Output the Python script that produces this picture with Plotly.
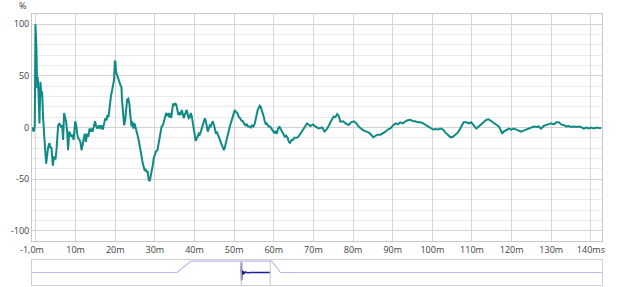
import plotly.graph_objects as go

# ---- main impulse response (time in ms, value in %) ----
time_ms = [
    -0.96, -0.55, -0.3, -0.13, 0.13, 0.3, 0.45, 0.63, 0.88, 1.13, 1.39, 1.55, 1.8, 1.97, 2.2, 2.57, 2.8,
    3.07, 3.4, 3.66, 3.9, 4.25, 4.58, 4.92, 5.17, 5.42, 5.6, 5.93, 6.26, 6.6, 6.85, 7.1, 7.35, 7.6, 7.87,
    8.1, 8.4, 8.7, 8.96, 9.2, 9.5, 9.9, 10.14, 10.4, 10.6, 11.0, 11.2, 11.5, 11.8, 12.06, 12.3, 12.6, 12.9,
    13.2, 13.5, 13.75, 14.0, 14.3, 14.7, 14.9, 15.2, 15.5, 15.85, 16.2, 16.5, 16.85, 17.2, 17.5, 17.8, 18.0,
    18.3, 18.55, 18.9, 19.2, 19.5, 19.7, 19.9, 20.05, 20.2, 20.4, 20.7, 21.06, 21.3, 21.57, 21.7, 22.0,
    22.25, 22.5, 22.75, 23.0, 23.3, 23.6, 23.8, 24.1, 24.3, 24.6, 24.85, 25.1, 25.35, 25.6, 25.9, 26.3,
    26.6, 26.95, 27.2, 27.45, 27.7, 27.96, 28.2, 28.46, 28.7, 28.96, 29.2, 29.5, 29.7, 30.0, 30.3, 30.65,
    31.0, 31.2, 31.5, 31.7, 32.0, 32.3, 32.6, 32.85, 33.1, 33.35, 33.6, 33.9, 34.1, 34.4, 34.6, 34.9, 35.2,
    35.4, 35.7, 35.95, 36.2, 36.45, 36.8, 37.0, 37.3, 37.5, 37.8, 38.05, 38.3, 38.55, 38.8, 39.05, 39.3,
    39.55, 39.8, 40.06, 40.3, 40.6, 40.8, 41.07, 41.3, 41.6, 41.8, 42.08, 42.3, 42.6, 42.85, 43.1, 43.35,
    43.6, 43.85, 44.1, 44.36, 44.6, 44.87, 45.1, 45.4, 45.6, 45.9, 46.1, 46.4, 46.6, 46.9, 47.1, 47.4,
    47.6, 47.9, 48.1, 48.4, 48.65, 48.9, 49.15, 49.4, 49.65, 49.9, 50.15, 50.5, 50.8, 51.2, 51.5, 51.8,
    52.2, 52.5, 52.85, 53.2, 53.5, 53.85, 54.2, 54.5, 54.85, 55.2, 55.45, 55.7, 55.95, 56.2, 56.45, 56.7,
    56.96, 57.2, 57.5, 57.7, 58.0, 58.2, 58.5, 58.7, 59.05, 59.4, 59.75, 60.1, 60.4, 60.75, 61.1, 61.4,
    61.8, 62.1, 62.45, 62.8, 63.1, 63.5, 63.8, 64.1, 64.5, 64.8, 65.2, 65.5, 65.8, 66.2, 66.7, 67.6, 68.4,
    69.25, 69.9, 70.5, 71.3, 72.2, 72.8, 73.5, 74.1, 74.7, 75.1, 75.55, 76.0, 76.4, 76.8, 77.5, 78.1,
    78.9, 79.5, 80.2, 80.85, 81.4, 82.0, 82.7, 83.4, 84.0, 84.55, 85.1, 85.65, 86.2, 86.9, 87.6, 88.2,
    88.75, 89.4, 90.1, 90.7, 91.3, 91.95, 92.6, 93.2, 93.8, 94.5, 95.15, 95.7, 96.3, 97.0, 97.7, 98.3,
    98.8, 99.5, 100.2, 100.8, 101.4, 102.0, 102.7, 103.3, 103.9, 104.6, 105.2, 105.8, 106.4, 106.9,
    107.4, 107.9, 108.6, 109.2, 109.8, 110.4, 111.1, 111.7, 112.3, 113.0, 113.65, 114.2, 114.8, 115.5,
    116.2, 116.75, 117.2, 117.6, 118.0, 118.7, 119.3, 119.9, 120.5, 121.2, 121.8, 122.4, 123.0, 123.7,
    124.3, 124.9, 125.6, 126.3, 126.8, 127.4, 128.1, 128.8, 129.4, 130.0, 130.6, 131.3, 131.9, 132.5,
    133.1, 133.8, 134.4, 135.0, 135.7, 136.35, 136.9, 137.5, 138.2, 138.9, 139.5, 140.1, 140.7, 141.4,
    142.0, 142.6,
]
response_pct = [
    0, -4, 1, 100, 75, 38, 49, 36, 4, 44, 30, 35, 10, -10, -15, -35, -28,
    -19, -15, -20, -19, -37, -28, -31, -22, -2, 2, 4, 1, 2, -12, 14, 10, 6, -4,
    -22, -4, -6, -9, -7, -12, 6, 2, -6, -10, -12, -14, -22, -15, -12, -6, -14, -6,
    -9, -1, -4, -1, -4, 1, 6, 1, -1, 2, -1, 2, -2, 4, 9, 7, 12,
    10, 20, 30, 36, 41, 46, 65, 63, 54, 51, 47.5, 44, 41, 39, 27, 12,
    2, 7, 20, 27, 28, 22, 12, 1, 6, -1, 4, 1, -4, -7, -12, -19,
    -27, -35, -38, -42, -41, -43, -43, -51, -52, -47, -44, -36, -30, -25, -23, -22,
    -14, -9, -1, 1, 2, 6, 10, 14, 12, 13, 10, 14, 9, 17, 23, 22, 23,
    22, 17, 12, 15, 12, 17, 14, 9, 12, 14, 17, 12, 9, 10, 14, 11,
    4, -2, -10, -13, -10, -9, -6, -7, -4, -1, 1, 6, 9, 6, 2, -4,
    -1, 2, 1, 4, 6, 3, -1, -6, -4, -7, -9, -12, -15, -19, -21, -22,
    -20, -15, -10, -6, -2, 1, 4, 7, 12, 15, 17, 15, 14, 10, 9, 7,
    6, 4, 2, 3, 1, 1, 0, 2, 1, 4, 9, 14, 17, 19, 21, 20,
    17, 14, 10, 6, 3, 4, 2, 1, 1, -1, -3, -5, -4, -6, -1, 1,
    -2, -4, -6, -9, -8, -10, -14, -15, -12, -12, -10, -10, -10, -9, -6, -1, 4,
    1.5, 3, 1, -1, 0, -4, -1, 4, 8, 10.5, 10, 13, 11, 5.6, 6, 4,
    2.5, 5, 6, 4, 1, -1, -3, -4, -5, -7, -9.5, -8, -7, -7, -5.6, -4,
    -2, -1, 2, 4, 3, 5, 4, 6, 7, 7.5, 6, 6, 5, 5, 4, 2.5,
    1.5, -1, -2, -1.5, -2, -1, -2, -5, -7, -9.5, -9, -7, -5, -2,
    2, 5, 5, 4, 5, 2.5, -1, 1, 3, 6, 7.5, 8, 6.5, 4,
    2.5, 1, -2, -6, -4, -2, -1, -2, -1, -2, -3, -4, -3, -2,
    -1, 0, 1, 0.5, 1, -1, 1.5, 2.5, 3, 4, 3, 5, 5, 3,
    2.5, 1, 1.5, 0.5, 1, 0.5, 1, 0.5, -1, 0, -1, 0, -1, 0,
    -0.5, -0.5,
]

# ---- axis ticks ----
x_tick_vals = [-1, 0, 10, 20, 30, 40, 50, 60, 70, 80, 90, 100, 110, 120, 130, 140]
x_tick_text = ["-1,0m", "", "10m", "20m", "30m", "40m", "50m", "60m", "70m", "80m", "90m",
               "100m", "110m", "120m", "130m", "140ms"]
y_tick_vals = [-100, -50, 0, 50, 100]
y_tick_text = ["-100", "-50", "0", "50", "100"]

# ---- overview strip: analysis window and impulse ----
window_ms = [-1040, -320, -251, 150, 194, 1790]
window_level = [0, 0, 1, 1, 0, 0]
overview_ms = [-1, 0, 0.5, 1, 2, 3, 5, 8, 12, 20, 30, 50, 142]
overview_amp = [0, 0.9, -0.7, 0.4, -0.3, 0.2, -0.15, 0.1, -0.1, 0.05, -0.03, 0, 0]
view_span = [-1, 142.8]

font = dict(family="Open Sans", size=9, color="#404040")

fig = go.Figure()
fig.add_trace(go.Scatter(x=time_ms, y=response_pct, mode="lines",
                         line=dict(color="#0f8a85", width=2), xaxis="x", yaxis="y"))
fig.add_trace(go.Scatter(x=window_ms, y=window_level, mode="lines",
                         line=dict(color="#b8b8f2", width=1.2), xaxis="x2", yaxis="y2"))
fig.add_trace(go.Scatter(x=overview_ms, y=overview_amp, mode="lines",
                         line=dict(color="#1e1e96", width=1.5), xaxis="x2", yaxis="y2"))

for v in view_span:
    fig.add_shape(type="line", xref="x2", yref="y2 domain", x0=v, x1=v, y0=0, y1=0.96,
                  line=dict(color="#c4c4c4", width=1))

fig.add_annotation(text="%", xref="paper", yref="paper", x=-0.017, y=1.031,
                   showarrow=False, font=font, xanchor="center", yanchor="middle")

fig.update_layout(
    width=617, height=287,
    margin=dict(l=32, r=15, t=14, b=2),
    paper_bgcolor="white", plot_bgcolor="white",
    showlegend=False, font=font,
    xaxis=dict(domain=[0, 1], anchor="y", range=[-1, 142.8],
               tickmode="array", tickvals=x_tick_vals, ticktext=x_tick_text,
               showgrid=True, gridcolor="#d6d6d6", gridwidth=1,
               showline=True, linecolor="#c8c8c8", mirror=True,
               zeroline=False, ticks="", tickfont=font),
    yaxis=dict(domain=[0.1624, 1], anchor="x", range=[-110, 110],
               tickmode="array", tickvals=y_tick_vals, ticktext=y_tick_text,
               showgrid=True, gridcolor="#d2d2d2", gridwidth=1,
               minor=dict(dtick=10, tick0=0, showgrid=True, gridcolor="#ebebeb", ticks=""),
               showline=True, linecolor="#c8c8c8", mirror=True,
               zeroline=False, ticks="", tickfont=font),
    xaxis2=dict(domain=[0, 1], anchor="y2", range=[-1040, 1790],
                showticklabels=False, showgrid=False, zeroline=False,
                showline=True, linecolor="#d0d0d0", mirror=True, ticks=""),
    yaxis2=dict(domain=[0, 0.0923], anchor="x2", range=[-1.1, 1.1],
                showticklabels=False, showgrid=False, zeroline=False,
                showline=True, linecolor="#d0d0d0", mirror=True, ticks=""),
)

fig.write_html("out.html")
